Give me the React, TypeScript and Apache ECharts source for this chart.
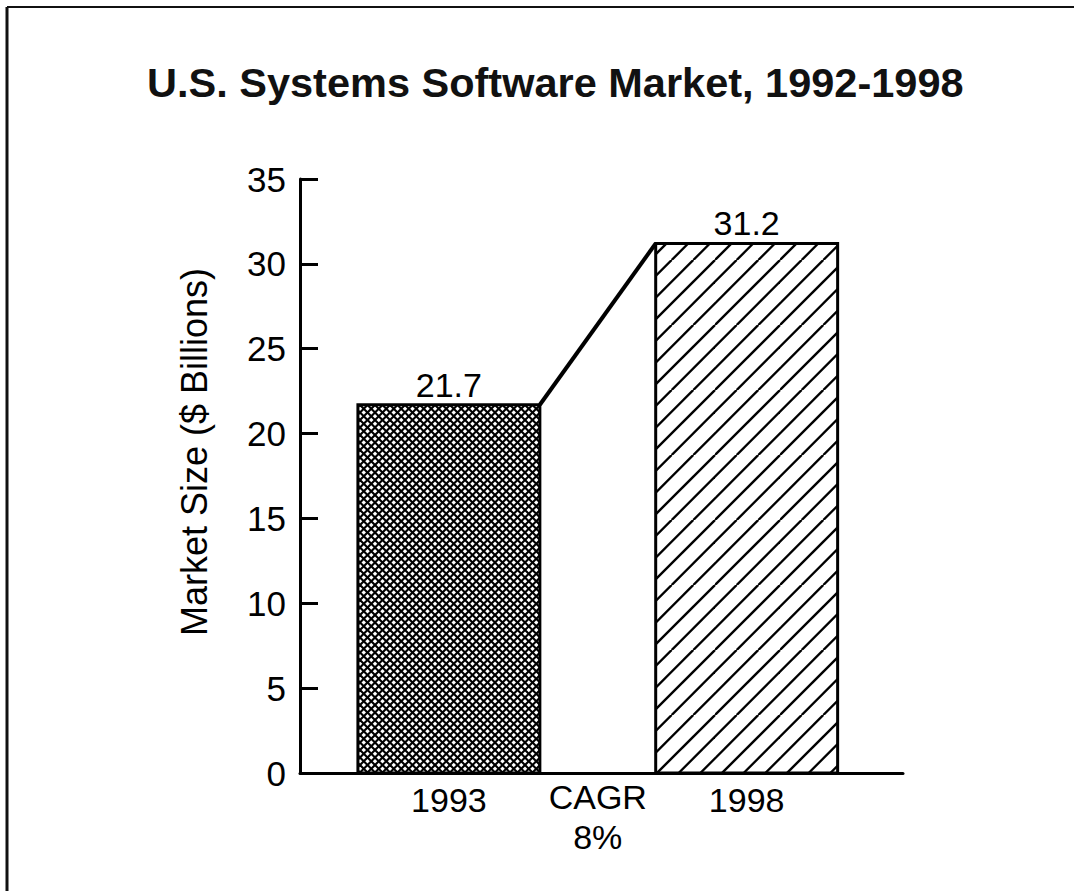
import React, { useEffect, useRef } from "react";
import * as echarts from "echarts";

const titleText = "U.S. Systems Software Market, 1992-1998";
const yAxisTitle = "Market Size ($ Billions)";
const barPositions = [1, 3];
const marketSize = [21.7, 31.2];
const xTickPositions = [1, 2, 3];
const xTickLabels = ["1993", "CAGR\n8%", "1998"];
const yMin = 0;
const yMax = 35;
const yStep = 5;

const FONT = "'Liberation Sans', Arial, Helvetica, sans-serif";
const HALF = 0.611;

function crossHatch() {
  const s = 30;
  const p = 7.5;
  const c = document.createElement("canvas");
  c.width = s;
  c.height = s;
  const g = c.getContext("2d")!;
  g.fillStyle = "#fff";
  g.fillRect(0, 0, s, s);
  g.strokeStyle = "#000";
  g.lineWidth = 2.1;
  for (let k = -8; k <= 16; k++) {
    const o = k * p;
    g.beginPath();
    g.moveTo(o, 0);
    g.lineTo(o + s, s);
    g.stroke();
    g.beginPath();
    g.moveTo(o, 0);
    g.lineTo(o - s, s);
    g.stroke();
  }
  return { image: c, repeat: "repeat", imageWidth: s, imageHeight: s };
}

function diagHatch() {
  const s = 65;
  const p = 65 / 3;
  const c = document.createElement("canvas");
  c.width = s;
  c.height = s;
  const g = c.getContext("2d")!;
  g.fillStyle = "#fff";
  g.fillRect(0, 0, s, s);
  g.strokeStyle = "#000";
  g.lineWidth = 2.4;
  for (let k = -2; k <= 8; k++) {
    const o = k * p;
    g.beginPath();
    g.moveTo(o, 0);
    g.lineTo(o - s, s);
    g.stroke();
  }
  return { image: c, repeat: "repeat", imageWidth: s, imageHeight: s };
}

export default function App() {
  const ref = useRef<HTMLDivElement>(null);
  useEffect(() => {
    if (!ref.current) return;
    const chart = echarts.init(ref.current, null, { renderer: "svg" });
    const patterns = [crossHatch(), diagHatch()];
    const barData = barPositions.map((x, i) => [x, marketSize[i]]);
    const lineData = [
      [barPositions[0] + HALF, marketSize[0]],
      [barPositions[1] - HALF, marketSize[1]],
    ];
    chart.setOption({
      animation: false,
      backgroundColor: "#fff",
      title: {
        text: titleText,
        left: 142,
        top: 56,
        textStyle: { fontFamily: FONT, fontSize: 41.5, fontWeight: "bold", color: "#111" },
      },
      grid: { left: 300, right: 171, top: 179, bottom: 118, containLabel: false },
      xAxis: {
        type: "value",
        min: 0,
        max: 4.05,
        interval: 1,
        axisLine: { lineStyle: { color: "#000", width: 3 } },
        axisTick: { show: false },
        splitLine: { show: false },
        axisLabel: {
          showMaxLabel: false,
          formatter: (v: number) => {
            const i = xTickPositions.indexOf(v);
            if (i < 0) return "";
            const t = xTickLabels[i];
            return t.indexOf("\n") >= 0 ? t : "{y|" + t + "}";
          },
          fontFamily: FONT,
          fontSize: 34,
          lineHeight: 40,
          color: "#000",
          margin: 4,
          rich: {
            y: { fontFamily: FONT, fontSize: 34, lineHeight: 40, color: "#000", padding: [6, 0, 0, 0] },
          },
        },
      },
      yAxis: {
        type: "value",
        min: yMin,
        max: yMax,
        interval: yStep,
        name: yAxisTitle,
        nameLocation: "middle",
        nameRotate: 90,
        nameGap: 88,
        nameTextStyle: { fontFamily: FONT, fontSize: 36, color: "#000", padding: [0, 0, 0, 48] },
        axisLine: { show: true, lineStyle: { color: "#000", width: 3 } },
        axisTick: { show: true, inside: true, length: 18, lineStyle: { color: "#000", width: 3 } },
        splitLine: { show: false },
        axisLabel: { fontFamily: FONT, fontSize: 35, color: "#000", margin: 14 },
      },
      graphic: [
        { type: "line", shape: { x1: 7, y1: 7, x2: 1074, y2: 7 }, style: { stroke: "#111", lineWidth: 2 } },
        { type: "line", shape: { x1: 7, y1: 7, x2: 7, y2: 891 }, style: { stroke: "#111", lineWidth: 3 } },
      ],
      series: [
        {
          type: "custom",
          data: barData,
          z: 3,
          renderItem: (params: any, api: any) => {
            const x = api.value(0);
            const v = api.value(1);
            const tl = api.coord([x - HALF, v]);
            const br = api.coord([x + HALF, 0]);
            return {
              type: "group",
              children: [
                {
                  type: "rect",
                  shape: { x: tl[0], y: tl[1], width: br[0] - tl[0], height: br[1] - tl[1] },
                  style: { fill: patterns[params.dataIndex], stroke: "#000", lineWidth: 3 },
                },
                {
                  type: "text",
                  x: (tl[0] + br[0]) / 2,
                  y: tl[1] - 3,
                  style: {
                    text: String(v),
                    fontFamily: FONT,
                    fontSize: 34,
                    fill: "#000",
                    align: "center",
                    verticalAlign: "bottom",
                  },
                },
              ],
            };
          },
        },
        {
          type: "line",
          data: lineData,
          z: 4,
          symbol: "none",
          lineStyle: { color: "#000", width: 4 },
        },
      ],
    });
    return () => chart.dispose();
  }, []);
  return (
    <div
      ref={ref}
      style={{ position: "fixed", left: 0, top: 0, width: 1074, height: 891 }}
    />
  );
}
